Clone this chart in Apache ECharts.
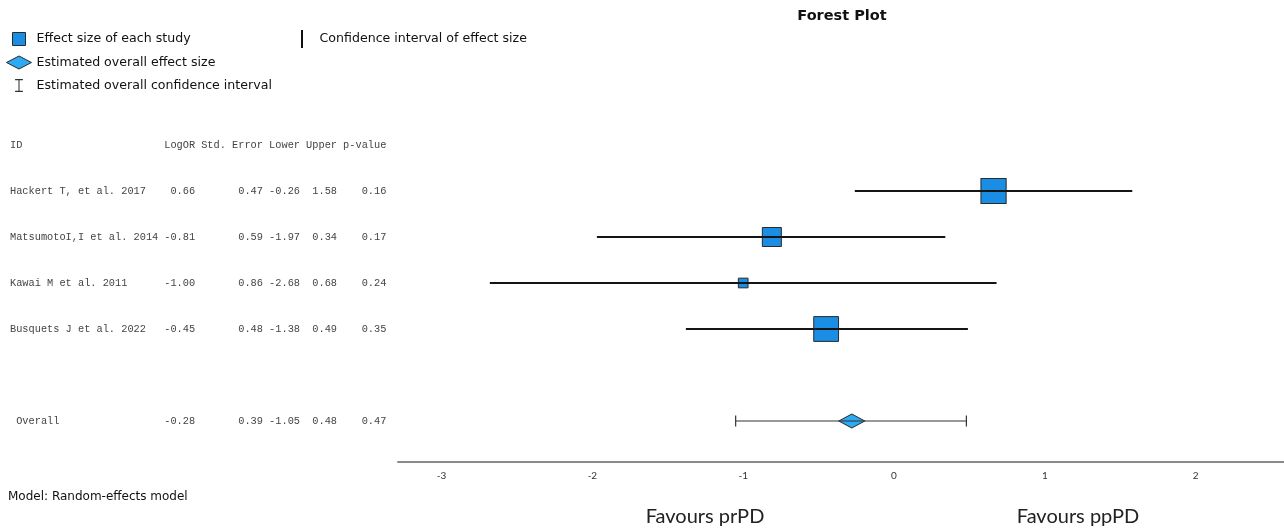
<!DOCTYPE html>
<html><head><meta charset="utf-8">
<script src="https://cdn.jsdelivr.net/npm/echarts@6/dist/echarts.min.js"></script>
<style>html,body{margin:0;padding:0;background:#fff}#chart{width:1284px;height:529px}</style>
</head><body><div id="chart"></div>
<script>
// ---- data ----
const studyNames = ['Hackert T, et al. 2017', 'MatsumotoI,I et al. 2014', 'Kawai M et al. 2011', 'Busquets J et al. 2022'];
const logOR = [0.66, -0.81, -1.00, -0.45];
const stdError = [0.47, 0.59, 0.86, 0.48];
const lowerCI = [-0.26, -1.97, -2.68, -1.38];
const upperCI = [1.58, 0.34, 0.68, 0.49];
const pValues = [0.16, 0.17, 0.24, 0.35];
const studyWeights = [30.5, 24.3, 15.0, 30.1];
const overallName = 'Overall';
const overallLogOR = -0.28;
const overallStdError = 0.39;
const overallLower = -1.05;
const overallUpper = 0.48;
const overallP = 0.47;
const xTickValues = [-3, -2, -1, 0, 1, 2];
const tableHeaders = ['ID', 'LogOR', 'Std. Error', 'Lower', 'Upper', 'p-value'];

// ---- layout ----
const X_MIN = -3.289, X_MAX = 2.586;
const overallRow = studyNames.length + 1;
const headerRow = -1;
const MONO = "'Liberation Mono','Courier New',monospace";
const SANS = "'DejaVu Sans',sans-serif";
const CH = 6.17, X0 = 10;
const colRight = [0, 30, 41, 47, 53, 61].map(c => X0 + c * CH);
const f2 = v => v.toFixed(2);

const tableRows = [{ row: headerRow, nameX: X0, cells: tableHeaders }];
studyNames.forEach((n, i) => tableRows.push({
  row: i, nameX: X0,
  cells: [n, f2(logOR[i]), f2(stdError[i]), f2(lowerCI[i]), f2(upperCI[i]), f2(pValues[i])]
}));
tableRows.push({ row: overallRow, nameX: X0 + CH,
  cells: [overallName, f2(overallLogOR), f2(overallStdError), f2(overallLower), f2(overallUpper), f2(overallP)] });

const chart = echarts.init(document.getElementById('chart'), null, { renderer: 'canvas' });

function renderTable(params, api) {
  const r = tableRows[params.dataIndex];
  const y = api.coord([0, r.row])[1];
  return {
    type: 'group',
    children: r.cells.map((t, j) => ({
      type: 'text', x: j === 0 ? r.nameX : colRight[j], y: y,
      style: { text: t, align: j === 0 ? 'left' : 'right', verticalAlign: 'middle',
        fontSize: 10.3, fontFamily: MONO, fill: '#444' }
    }))
  };
}
function renderCI(params, api) {
  const lo = api.coord([api.value(0), api.value(2)]);
  const hi = api.coord([api.value(1), api.value(2)]);
  return { type: 'line', shape: { x1: lo[0], y1: lo[1], x2: hi[0], y2: hi[1] },
    style: { stroke: '#151515', lineWidth: 2 } };
}
function renderOverallCI(params, api) {
  const lo = api.coord([api.value(0), api.value(2)]);
  const hi = api.coord([api.value(1), api.value(2)]);
  const h = 5.5;
  const st = { stroke: '#333', lineWidth: 1.2 };
  return { type: 'group', children: [
    { type: 'line', shape: { x1: lo[0], y1: lo[1], x2: hi[0], y2: hi[1] }, style: st },
    { type: 'line', shape: { x1: lo[0], y1: lo[1] - h, x2: lo[0], y2: lo[1] + h }, style: st },
    { type: 'line', shape: { x1: hi[0], y1: hi[1] - h, x2: hi[0], y2: hi[1] + h }, style: st }
  ] };
}

const SQUARE_ICON = 'path://M0,0 L10,0 L10,10 L0,10 Z';
const DIAMOND_ICON = 'path://M0,6.5 L12.5,0 L25,6.5 L12.5,13 Z';
const IBEAM_ICON = 'path://M0,0 H9 V1.3 H5.1 V13.7 H9 V15 H0 V13.7 H3.9 V1.3 H0 Z';
const VBAR_ICON = 'path://M0,0 H2 V18 H0 Z';

chart.setOption({
  animation: false,
  backgroundColor: '#fff',
  title: { text: 'Forest Plot', left: 842, top: 9, textAlign: 'center', padding: 0,
    textStyle: { fontSize: 14.5, fontWeight: 'bold', fontFamily: SANS, color: '#111' } },
  legend: [
    { orient: 'vertical', left: 6, top: 32, itemWidth: 25, itemHeight: 13, itemGap: 9.5,
      selectedMode: false, padding: 0, symbolKeepAspect: true,
      textStyle: { fontSize: 12.6, fontFamily: SANS, color: '#111' },
      data: [
        { name: 'Effect size of each study', icon: SQUARE_ICON,
          itemStyle: { color: '#1a8de4', borderColor: '#2a2a2a', borderWidth: 1 } },
        { name: 'Estimated overall effect size', icon: DIAMOND_ICON,
          itemStyle: { color: '#2ea9f3', borderColor: '#2a2a2a', borderWidth: 1 } },
        { name: 'Estimated overall confidence interval', icon: IBEAM_ICON,
          itemStyle: { color: '#333', borderWidth: 0 } }
      ] },
    { orient: 'vertical', left: 301, top: 30, itemWidth: 25, itemHeight: 18,
      selectedMode: false, padding: 0, symbolKeepAspect: true,
      textStyle: { fontSize: 12.6, fontFamily: SANS, color: '#111' },
      data: [ { name: 'Confidence interval of effect size', icon: VBAR_ICON,
        itemStyle: { color: '#111', borderWidth: 0 } } ] }
  ],
  grid: { left: 398, right: 0, top: 145, bottom: 67, containLabel: false },
  xAxis: {
    type: 'value', min: X_MIN, max: X_MAX, position: 'bottom',
    axisLine: { show: true, onZero: false, lineStyle: { color: '#8a8a8a', width: 2 } },
    axisTick: { show: false }, splitLine: { show: false },
    axisLabel: { customValues: xTickValues, margin: 9, fontSize: 10,
      fontFamily: "'Liberation Sans Narrow','Lato',sans-serif", color: '#333' }
  },
  yAxis: { type: 'value', inverse: true, min: headerRow, max: 5.891, show: false },
  graphic: [
    { type: 'text', x: 8, y: 497, style: { text: 'Model: Random-effects model', align: 'left',
      verticalAlign: 'middle', fontSize: 12, fontFamily: SANS, fill: '#111' } },
    { type: 'text', x: 705, y: 517, style: { text: 'Favours prPD', align: 'center',
      verticalAlign: 'middle', fontSize: 20, fontFamily: "'Lato',sans-serif", fill: '#222' } },
    { type: 'text', x: 1078, y: 517, style: { text: 'Favours ppPD', align: 'center',
      verticalAlign: 'middle', fontSize: 20, fontFamily: "'Lato',sans-serif", fill: '#222' } }
  ],
  series: [
    { name: 'table', type: 'custom', silent: true, clip: false, renderItem: renderTable,
      encode: { x: 0, y: 1 }, data: tableRows.map(r => [0, r.row]), z: 1 },
    { name: 'Effect size of each study', type: 'scatter', symbol: 'rect', z: 2,
      symbolSize: v => v[2] - 5.3,
      itemStyle: { color: '#1a8de4', borderColor: '#2a2a2a', borderWidth: 1, opacity: 1 },
      data: logOR.map((v, i) => [v, i, studyWeights[i]]) },
    { name: 'Confidence interval of effect size', type: 'custom', z: 3, renderItem: renderCI,
      itemStyle: { color: '#111' },
      encode: { x: [0, 1], y: 2 }, data: lowerCI.map((v, i) => [v, upperCI[i], i]) },
    { name: 'Estimated overall effect size', type: 'scatter', symbol: 'diamond', z: 2,
      symbolSize: [26, 14],
      itemStyle: { color: '#2ea9f3', borderColor: '#2a2a2a', borderWidth: 1, opacity: 1 },
      data: [[overallLogOR, overallRow]] },
    { name: 'Estimated overall confidence interval', type: 'custom', z: 3, renderItem: renderOverallCI,
      itemStyle: { color: '#333' },
      encode: { x: [0, 1], y: 2 }, data: [[overallLower, overallUpper, overallRow]] }
  ]
});
</script></body></html>
